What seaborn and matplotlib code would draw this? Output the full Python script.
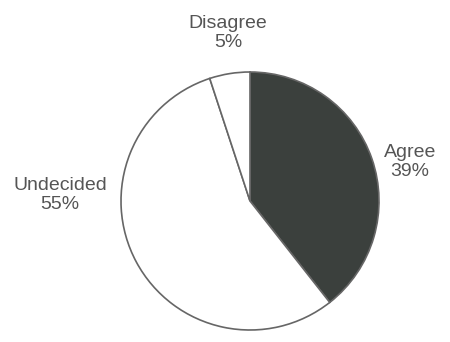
import matplotlib
matplotlib.use("Agg")
import matplotlib.pyplot as plt
import seaborn as sns

categories = ["Agree", "Undecided", "Disagree"]
values = [39, 55, 5]
labels = ["Agree\n39%", "Undecided\n55%", "Disagree\n5%"]

sns.set_theme(style="white")
plt.rcParams['font.family'] = ['Liberation Sans', 'DejaVu Sans']

fig = plt.figure(figsize=(4.5, 3.42), dpi=100)
ax = fig.add_axes([0, 0, 1, 1])
R = 129.0
cx, cy = 250.0, 201.0

colors = ["#3b403d", "white", "white"]
ax.pie(values, colors=colors, startangle=90, counterclock=False, radius=1.0,
       wedgeprops=dict(edgecolor="#666666", linewidth=1.2))

ax.set_xlim(-cx / R, (450 - cx) / R)
ax.set_ylim(-(342 - cy) / R, cy / R)
ax.set_aspect('equal')
ax.axis('off')

txt = dict(color="#555555", fontsize=14, ha="center", va="center", linespacing=1.15)
ax.text((410 - cx) / R, (cy - 162) / R, labels[0], **txt)
ax.text((60 - cx) / R, (cy - 195) / R, labels[1], **txt)
ax.text((228 - cx) / R, (cy - 33) / R, labels[2], **txt)

fig.savefig("out.png", dpi=100, facecolor="white")
